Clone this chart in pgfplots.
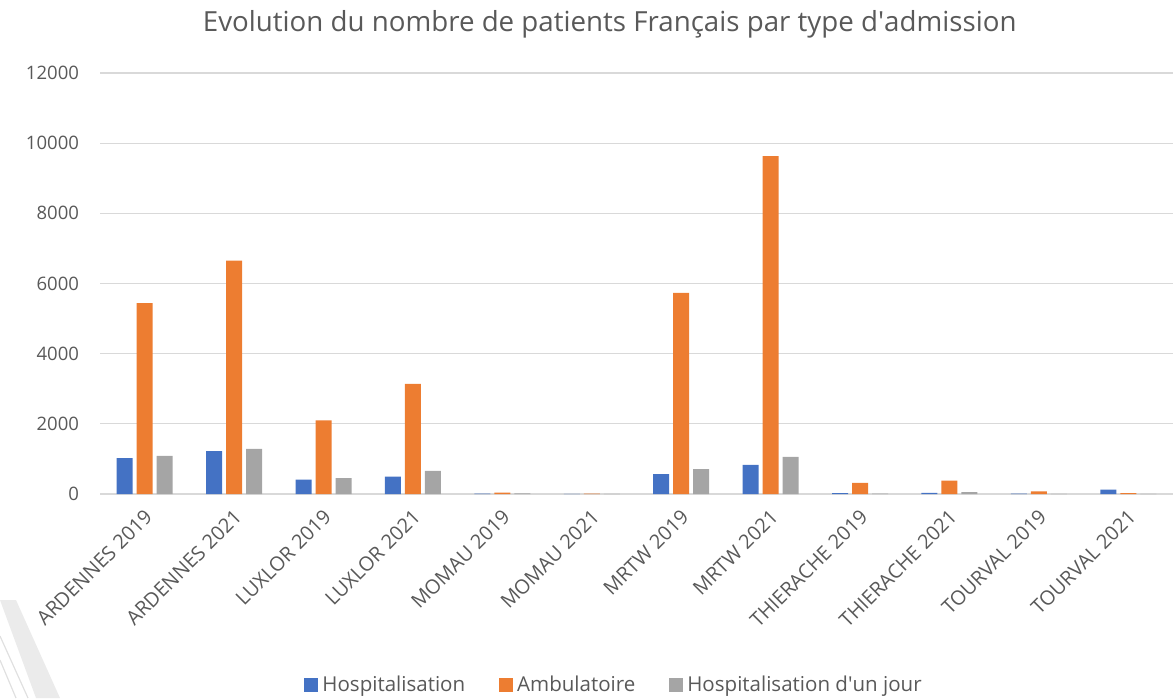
\documentclass[border=0pt]{standalone}
\usepackage{fontspec}
\setmainfont{Open Sans}
\usepackage{pgfplots}
\pgfplotsset{compat=1.18}
\definecolor{hosp}{HTML}{4472C4}
\definecolor{ambu}{HTML}{ED7D31}
\definecolor{jour}{HTML}{A5A5A5}
\definecolor{txt}{HTML}{595959}
\definecolor{gridc}{HTML}{D9D9D9}
\begin{document}
\begin{tikzpicture}[x=1bp,y=1bp]
% faint slide decoration, lower left
\fill[black!8] (0,-300) -- (8,-300) -- (30,-349) -- (18,-349) -- cycle;
\draw[black!12, line width=0.6bp] (0,-318) -- (14,-349);
\draw[black!12, line width=0.6bp] (0,-330) -- (8,-349);
\begin{axis}[
  scale only axis,
  width=536.5bp, height=210.5bp,
  at={(50bp,-247bp)}, anchor=south west,
  ybar=2bp, bar width=8bp,
  xmin=-0.5, xmax=11.5,
  ymin=0, ymax=12000,
  ytick={0,2000,...,12000},
  scaled y ticks=false,
  xtick=data,
  xticklabels={ARDENNES 2019,ARDENNES 2021,LUXLOR 2019,LUXLOR 2021,MOMAU 2019,MOMAU 2021,MRTW 2019,MRTW 2021,THIERACHE 2019,THIERACHE 2021,TOURVAL 2019,TOURVAL 2021},
  x tick label style={rotate=45, anchor=north east, font=\fontsize{10}{12}\selectfont, text=txt, xshift=-2bp, yshift=-1bp},
  y tick label style={font=\fontsize{9.3}{11}\selectfont, text=txt, xshift=-7bp},
  /pgf/number format/assume math mode=true,
  /pgf/number format/1000 sep={},
  ymajorgrids, major grid style={gridc, line width=0.6bp},
  axis x line*=bottom, axis y line*=left,
  y axis line style={draw=none},
  x axis line style={gridc, line width=0.8bp},
  major tick length=0pt,
  axis line style={-},
  title={Evolution du nombre de patients Français par type d\textquotesingle admission},
  title style={font=\fontsize{13.9}{16}\selectfont, text=txt, at={(0.475,1)}, yshift=8bp},
  legend style={at={(0.48,-0.454)}, anchor=center, draw=none, fill=none,
    font=\fontsize{10.3}{12}\selectfont, text=txt, legend columns=3,
    /tikz/every even column/.append style={column sep=15bp}},
  legend image code/.code={\fill[#1] (0bp,-3.5bp) rectangle (7bp,3.5bp);},
]
\addplot[fill=hosp, draw=none] coordinates {
 (0,1020) (1,1220) (2,410) (3,495) (4,12) (5,6) (6,570) (7,830) (8,25) (9,35) (10,10) (11,125)};
\addplot[fill=ambu, draw=none] coordinates {
 (0,5440) (1,6650) (2,2100) (3,3140) (4,40) (5,12) (6,5730) (7,9630) (8,320) (9,380) (10,75) (11,25)};
\addplot[fill=jour, draw=none] coordinates {
 (0,1085) (1,1285) (2,450) (3,660) (4,20) (5,5) (6,712) (7,1060) (8,10) (9,55) (10,6) (11,3)};
\legend{Hospitalisation,Ambulatoire,Hospitalisation d\textquotesingle un jour}
\end{axis}
\pgfresetboundingbox
\path (0,0) rectangle (586.5,-349);
\end{tikzpicture}
\end{document}
